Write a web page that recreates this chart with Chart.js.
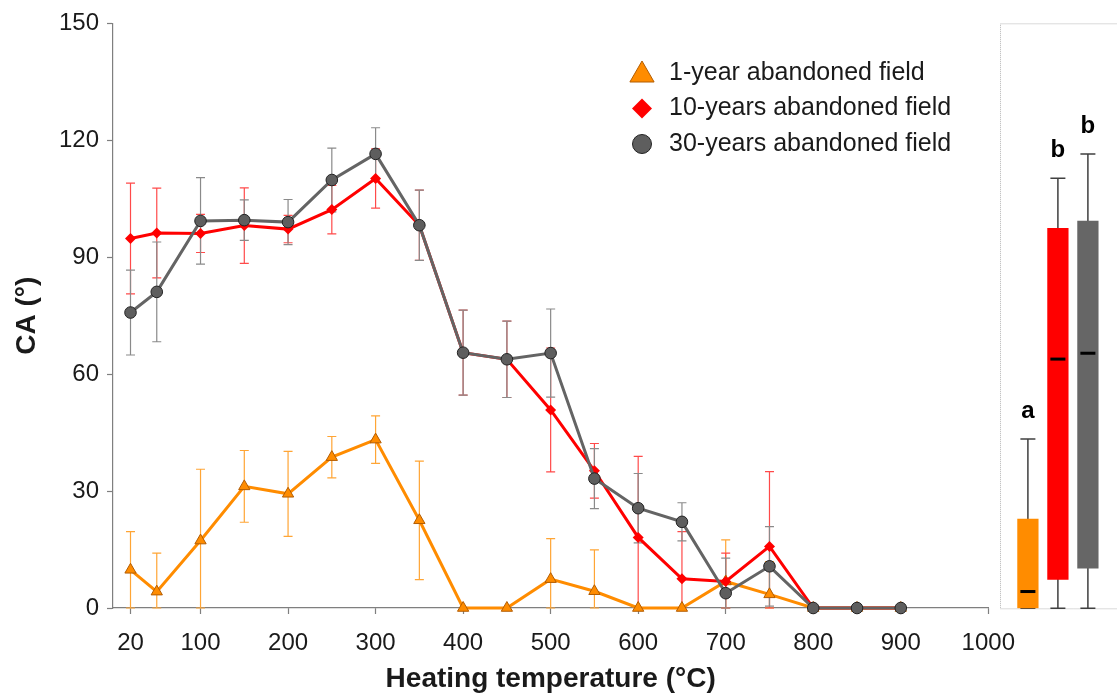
<!DOCTYPE html>
<html><head><meta charset="utf-8">
<script src="https://cdn.jsdelivr.net/npm/chart.js@4.4.1/dist/chart.umd.min.js"></script>
<style>
html,body{margin:0;padding:0;background:#fff;overflow:hidden;width:1117px;height:696px;position:relative;}
#main{position:absolute;left:0;top:0;}
#panel{position:absolute;left:980px;top:0;}
</style></head><body>
<canvas id="main" width="1030" height="696"></canvas>
<canvas id="panel" width="200" height="696"></canvas>
<script>
// ---------- data ----------
const temperatures = [20,50,100,150,200,250,300,350,400,450,500,550,600,650,700,750,800,850,900];
const xTickValues = [20,100,200,300,400,500,600,700,800,900,1000];
const seriesLabels = ['1-year abandoned field','10-years abandoned field','30-years abandoned field'];
const year1Mean  = [9.8,4.2,17.3,31.2,29.3,38.7,43.2,22.5,0,0,7.4,4.3,0,0,6.8,3.5,0,0,0];
const year1Err   = [9.8,9.9,18.3,9.2,10.9,5.3,6.1,15.2,0,0,10.4,10.6,0,0,10.7,8.4,0,0,0];
const year10Mean = [94.8,96.2,96.1,98.1,97.2,102.2,110.2,98.2,65.5,63.8,50.8,35.2,18.1,7.5,6.8,15.8,0,0,0];
const year10Err  = [14.2,11.5,4.9,9.7,3.5,6.2,7.6,9.0,10.9,9.8,15.9,7.0,20.8,12.1,7.3,19.2,0,0,0];
const year30Mean = [75.8,81.1,99.3,99.5,99.0,109.8,116.5,98.2,65.5,63.8,65.4,33.2,25.6,22.1,3.8,10.7,0,0,0];
const year30Err  = [10.9,12.8,11.1,5.2,5.8,8.2,6.7,9.0,10.9,9.8,11.3,7.7,8.9,4.9,9.0,10.2,0,0,0];

// summary panel (box plot)
const panelGroups = ['1-year','10-years','30-years'];
const boxLow      = [0, 7.4, 10.3];
const boxHigh     = [22.9, 97.4, 99.3];
const boxMedian   = [4.3, 63.9, 65.4];
const whiskerLow  = [0, 0, 0];
const whiskerHigh = [43.4, 110.3, 116.5];
const groupLetters = ['a','b','b'];

// ---------- styles ----------
const FONT = '"Liberation Sans", Arial, sans-serif';
const TXT = '#1a1a1a';
const AXIS = '#7f7f7f';
const colOrange = '#FF8C00', colRed = '#FF0000', colGray = '#646464';
const errColors = ['#FFA535', '#FF4A4A', '#8A8A8A'];
const meansAll = [year1Mean, year10Mean, year30Mean];
const errsAll = [year1Err, year10Err, year30Err];

const toPts = arr => temperatures.map((t,i)=>({x:t, y:arr[i]}));

const errorBarsPlugin = {
  id:'errorBars',
  beforeDatasetsDraw(chart){
    const {ctx, scales:{x,y}} = chart;
    ctx.save();
    ctx.lineWidth = 1.2;
    [0,1,2].forEach(k=>{
      ctx.strokeStyle = errColors[k];
      const m = meansAll[k], e = errsAll[k];
      temperatures.forEach((t,i)=>{
        if (!e[i]) return;
        const px = x.getPixelForValue(t);
        const top = y.getPixelForValue(m[i]+e[i]);
        const bot = y.getPixelForValue(Math.max(0, m[i]-e[i]));
        ctx.beginPath();
        ctx.moveTo(px, top); ctx.lineTo(px, bot);
        ctx.moveTo(px-4.5, top); ctx.lineTo(px+4.5, top);
        ctx.moveTo(px-4.5, bot); ctx.lineTo(px+4.5, bot);
        ctx.stroke();
      });
    });
    ctx.restore();
  }
};

const legendPlugin = {
  id:'customLegend',
  afterDraw(chart){
    const {ctx} = chart;
    const specs = [
      {style:'triangle', r:14, dy:2},
      {style:'rectRot', r:10, dy:0},
      {style:'circle', r:9.5, dy:0}
    ];
    const rows = [73, 108.5, 144];
    ctx.save();
    chart.data.datasets.forEach((ds,i)=>{
      const s = specs[i];
      ctx.fillStyle = ds.pointBackgroundColor;
      ctx.strokeStyle = ds.pointBorderColor;
      ctx.lineWidth = ds.pointBorderWidth;
      Chart.helpers.drawPoint(ctx, {pointStyle:s.style, radius:s.r, rotation:0, borderWidth:ds.pointBorderWidth}, 642, rows[i]+s.dy);
      ctx.fillStyle = TXT;
      ctx.font = '25px ' + FONT;
      ctx.textBaseline = 'middle';
      ctx.textAlign = 'left';
      ctx.fillText(ds.label, 669, rows[i]);
    });
    ctx.restore();
  }
};

new Chart(document.getElementById('main'), {
  type:'line',
  data:{
    datasets:[
      {label:seriesLabels[0], data:toPts(year1Mean), borderColor:colOrange, borderWidth:3,
       pointStyle:'triangle', pointRadius:6.5, pointBackgroundColor:colOrange, pointBorderColor:'#B35C00', pointBorderWidth:1,
       order:2, clip:false, tension:0},
      {label:seriesLabels[1], data:toPts(year10Mean), borderColor:colRed, borderWidth:3,
       pointStyle:'rectRot', pointRadius:5.5, pointBackgroundColor:colRed, pointBorderColor:colRed, pointBorderWidth:0,
       order:1, clip:false, tension:0},
      {label:seriesLabels[2], data:toPts(year30Mean), borderColor:colGray, borderWidth:3,
       pointStyle:'circle', pointRadius:5.8, pointBackgroundColor:'#5E5E5E', pointBorderColor:'#222222', pointBorderWidth:1,
       order:0, clip:false, tension:0}
    ]
  },
  options:{
    responsive:false, animation:false,
    layout:{padding:{left:0, top:23.3, right:40.4, bottom:0}},
    plugins:{legend:{display:false}, tooltip:{enabled:false}},
    scales:{
      x:{type:'linear', min:0, max:1000,
        afterBuildTicks(s){ s.ticks = xTickValues.map(v=>({value:v})); },
        afterFit(s){ s.height = 88; },
        grid:{drawOnChartArea:false, drawTicks:true, tickLength:6, tickColor:AXIS, tickWidth:1.2},
        border:{color:AXIS, width:1.2},
        ticks:{font:{size:24, family:FONT}, color:TXT, padding:15, maxRotation:0, autoSkip:false, callback:v=>String(v)},
        title:{display:true, text:'Heating temperature (°C)', color:TXT, font:{size:28, weight:'bold', family:FONT}, padding:{top:0,bottom:0}}
      },
      y:{min:0, max:150,
        afterFit(s){ s.width = 113; },
        grid:{drawOnChartArea:false, drawTicks:true, tickLength:6, tickColor:AXIS, tickWidth:1.2},
        border:{color:AXIS, width:1.2},
        ticks:{stepSize:30, font:{size:24, family:FONT}, color:TXT, padding:8},
        title:{display:true, text:'CA (°)', color:TXT, font:{size:28, weight:'bold', family:FONT}, padding:{top:10,bottom:0}}
      }
    }
  },
  plugins:[errorBarsPlugin, legendPlugin]
});

// ---------- summary panel ----------
const panelColors = [colOrange, colRed, '#666666'];
const panelPlugin = {
  id:'panelDecor',
  beforeDatasetsDraw(chart){
    const {ctx, chartArea:a, scales:{x,y}} = chart;
    ctx.save();
    ctx.strokeStyle = '#b5b5b5'; ctx.lineWidth = 1; ctx.setLineDash([1,1]);
    ctx.strokeRect(a.left+0.5, a.top+0.5, a.right - a.left + 20, a.bottom - a.top);
    ctx.setLineDash([]);
    ctx.strokeStyle = '#404040'; ctx.lineWidth = 1.5;
    panelGroups.forEach((g,i)=>{
      const px = x.getPixelForValue(i+1);
      const t = y.getPixelForValue(whiskerHigh[i]);
      const b = y.getPixelForValue(whiskerLow[i]);
      ctx.beginPath();
      ctx.moveTo(px, t); ctx.lineTo(px, b);
      ctx.moveTo(px-7.5, t); ctx.lineTo(px+7.5, t);
      ctx.moveTo(px-7.5, b); ctx.lineTo(px+7.5, b);
      ctx.stroke();
    });
    ctx.restore();
  },
  afterDatasetsDraw(chart){
    const {ctx, scales:{x,y}} = chart;
    ctx.save();
    panelGroups.forEach((g,i)=>{
      const px = x.getPixelForValue(i+1);
      const my = y.getPixelForValue(boxMedian[i]);
      ctx.fillStyle = '#000';
      ctx.fillRect(px-7.5, my-1.5, 15, 3);
      ctx.font = 'bold 24px ' + FONT;
      ctx.textAlign = 'center'; ctx.textBaseline = 'middle';
      ctx.fillText(groupLetters[i], px, y.getPixelForValue(whiskerHigh[i]) - 28);
    });
    ctx.restore();
  }
};

new Chart(document.getElementById('panel'), {
  type:'bar',
  data:{
    datasets:[{
      label:'summary',
      data: panelGroups.map((g,i)=>({x:i+1, y:[boxLow[i], boxHigh[i]]})),
      backgroundColor: panelColors,
      borderWidth:0, barThickness:20.6
    }]
  },
  options:{
    responsive:false, animation:false,
    layout:{padding:{left:20, top:23.3, bottom:87.7, right:0}},
    plugins:{legend:{display:false}, tooltip:{enabled:false}},
    scales:{
      x:{type:'linear', min:0.07, max:6.07, offset:false, grid:{offset:false}, display:false},
      y:{min:0, max:150, display:false}
    }
  },
  plugins:[panelPlugin]
});
</script>
</body></html>
